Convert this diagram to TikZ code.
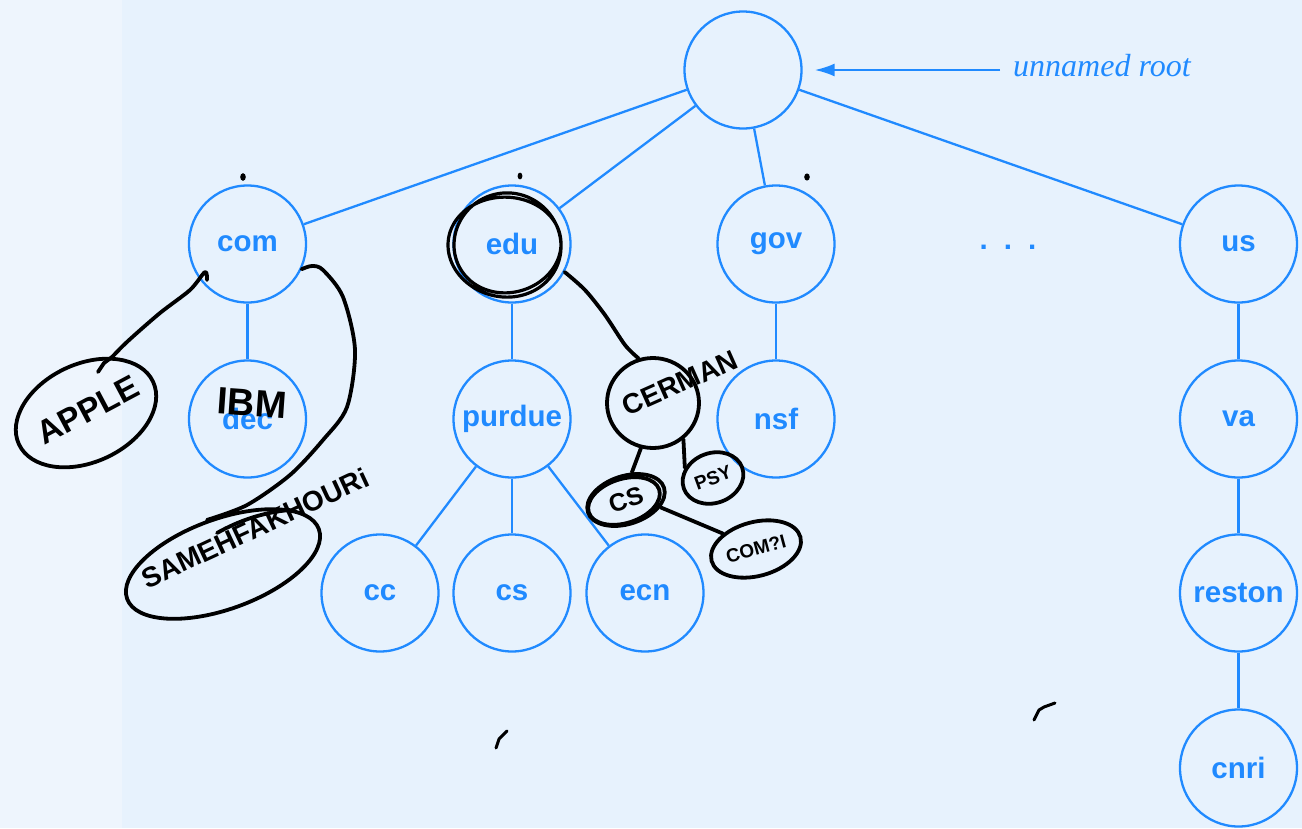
\documentclass[tikz,border=0pt]{standalone}
\usepackage{fontspec}
\setsansfont{Liberation Sans}
\newfontfamily\rootfont{Liberation Serif}
\usetikzlibrary{arrows.meta,shapes.geometric}

\definecolor{dnsblue}{RGB}{32,138,255}
\definecolor{bgmain}{RGB}{231,242,253}
\definecolor{bgleft}{RGB}{238,245,253}

\tikzset{
  dnsnode/.style={circle, draw=dnsblue, line width=2.3pt, minimum size=117pt, inner sep=0pt,
    text=dnsblue, font=\sffamily\bfseries\fontsize{29.5}{30}\selectfont},
  tree edge/.style={dnsblue, line width=2.3pt},
  ink/.style={black, line width=3.8pt, line cap=round, line join=round},
  inkblob/.style={ellipse, draw=black, line width=3.8pt, inner sep=0pt, text=black},
  inktext/.style={text=black, inner sep=0pt}
}

\begin{document}
\begin{tikzpicture}[x=1pt,y=-1pt]
		\fill[bgmain] (0,0) rectangle (1302,828);
		\fill[bgleft] (0,0) rectangle (122,828);
		\useasboundingbox (0,0) rectangle (1302,828);
		
		% the tree
		\node[dnsnode] (root) at (743,70) {};
		\node[dnsnode] (com) at (247.5,244) {com};
		\node[dnsnode] (edu) at (512,244) {edu};
		\node[dnsnode] (gov) at (776,244) {gov};
		\node[dnsnode] (us) at (1238.5,244) {us};
		\node[dnsnode] (dec) at (247.5,419) {dec};
		\node[dnsnode] (purdue) at (512,419) {purdue};
		\node[dnsnode] (nsf) at (776,419) {nsf};
		\node[dnsnode] (va) at (1238.5,419) {va};
		\node[dnsnode] (cc) at (380,593) {cc};
		\node[dnsnode] (cs) at (512,593) {cs};
		\node[dnsnode] (ecn) at (645,593) {ecn};
		\node[dnsnode] (reston) at (1238.5,593) {reston};
		\node[dnsnode] (cnri) at (1238.5,768) {cnri};
		
		\node[text=dnsblue, inner sep=0pt, font=\sffamily\bfseries\fontsize{29.5}{30}\selectfont] (dots) at (1008,247) {.\hspace{16pt}.\hspace{16pt}.};
		
		\foreach \a/\b in {root/com, root/edu, root/gov, root/us, com/dec, edu/purdue, gov/nsf,
		                   us/va, va/reston, reston/cnri, purdue/cc, purdue/cs, purdue/ecn}
		  \draw[tree edge] (\a) -- (\b);
		
		\node[anchor=west, inner sep=0pt, text=dnsblue, font=\rootfont\itshape\fontsize{32}{33}\selectfont] (rootlabel) at (1013,66) {unnamed root};
		\coordinate (arrowstart) at (1000,70);
		\draw[tree edge, -{Latex[length=20pt,width=13pt]}, shorten >=12pt] (arrowstart) -- (root.east);
		
		% hand-written notes
		\fill (243,177) ellipse [x radius=2.8, y radius=3.8];
		\fill (520,176) ellipse [x radius=2.4, y radius=3.4];
		\fill (807,177) ellipse [x radius=2.8, y radius=3.6];
		\draw[ink, line width=3pt] (496,748) -- (499,739) -- (507,731);
		\draw[ink, line width=3pt] (1034,720) -- (1039,710) -- (1044,707) -- (1055,703);
		
		\draw[ink, line width=3.2pt] plot[domain=20:760, samples=120, smooth]
		  ({506+(55+3*sin(0.5*\x))*cos(\x)}, {245+(50+3*cos(0.5*\x))*sin(\x)});
		
		\node[inkblob, minimum width=148pt, minimum height=98pt, rotate=25] (appleblob) at (86,413) {};
		\node[inktext, rotate=28, font=\sffamily\bfseries\fontsize{33}{33}\selectfont] (apple) at (88,410) {APPLE};
		\draw[ink] (98,372) -- (104,363) -- (appleblob.40);
		\draw[ink] plot[smooth] coordinates {(appleblob.40) (128,341) (160,313) (190,290) (205,272) (207,280)};
		
		\node[inktext, rotate=-4, font=\sffamily\bfseries\fontsize{38}{38}\selectfont] (ibm) at (252,403) {IBM};
		
		\node[inkblob, minimum width=204pt, minimum height=90pt, rotate=20] (samehblob) at (223,564) {};
		\node[inktext, rotate=25, font=\sffamily\bfseries\fontsize{28}{28}\selectfont] (sameh) at (255,528) {SAMEHFAKHOURi};
		\draw[ink] plot[smooth] coordinates {(com.-25) (312,266) (323,270) (343,297) (355,350) (347,407)
		  (323,440) (290,475) (247,505) (samehblob.north)};
		\draw[ink] (217,533) .. controls (240,520) and (265,512) .. (290,510);
		
		\node[inkblob, minimum width=92pt, minimum height=90pt] (cermanblob) at (653,403) {};
		\node[inktext, rotate=24, font=\sffamily\bfseries\fontsize{28}{28}\selectfont] (cerman) at (680,383) {CERMAN};
		\draw[ink] plot[smooth] coordinates {(edu.-28) (585,290) (605,315) (625,345) (cermanblob.108)};
		
		\node[inkblob, minimum width=80pt, minimum height=48pt, rotate=18, font=\sffamily\bfseries\fontsize{25}{25}\selectfont] (csblob) at (626,500) {CS};
		\draw[ink, rotate around={18:(624,501)}] (624,501) ellipse [x radius=37, y radius=22];
		\node[inkblob, minimum width=62pt, minimum height=50pt, rotate=20, font=\sffamily\bfseries\fontsize{19}{19}\selectfont] (psyblob) at (713,478) {PSY};
		\node[inkblob, minimum width=92pt, minimum height=54pt, rotate=15, font=\sffamily\bfseries\fontsize{19}{19}\selectfont] (compblob) at (756,549) {COM?I};
		
		\draw[ink] (cermanblob.255) -- (csblob.60);
		\draw[ink] (cermanblob.-50) -- (psyblob.140);
		\draw[ink] (csblob.-30) -- (compblob.140);
\end{tikzpicture}
\end{document}
